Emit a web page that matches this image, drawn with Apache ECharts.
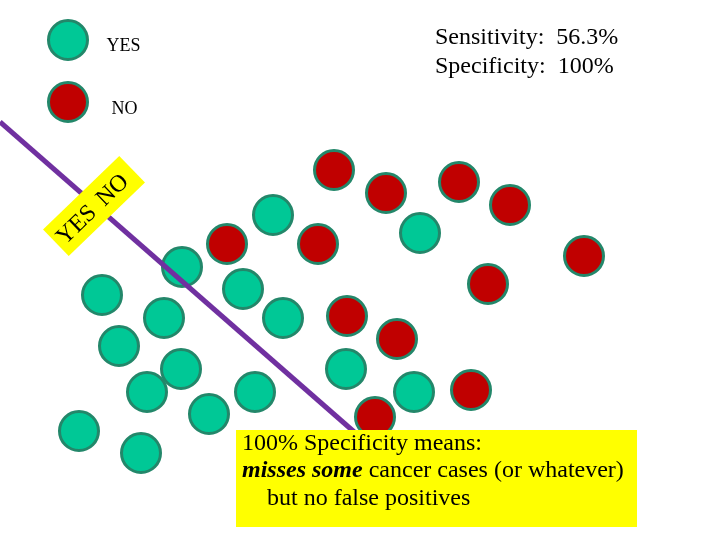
<!DOCTYPE html>
<html>
<head>
<meta charset="utf-8">
<script src="https://cdn.jsdelivr.net/npm/echarts@6/dist/echarts.min.js"></script>
<style>
html,body{margin:0;padding:0;background:#fff;}
#chart{width:720px;height:540px;}
</style>
</head>
<body>
<div id="chart"></div>
<script>
// Data (plot units = picture pixels, y downward)
const yesPoints = [[273,215],[420,233],[182,267],[102,295],[243,289],[164,318],[283,318],[119,346],[181,369],[147,392],[255,392],[346,369],[209,414],[79,431],[141,453],[414,392]];
const noPoints = [[334,170],[386,193],[459,182],[510,205],[318,244],[227,244],[584,256],[488,284],[347,316],[397,339],[471,390],[375,417]];
const boundary = [[0,122],[360,437]];
const classNames = ['YES', 'NO'];
const statLines = ['Sensitivity:  56.3%', 'Specificity:  100%'];
const noteLine1 = '100% Specificity means:';
const noteEmph = 'misses some';
const noteRest = ' cancer cases (or whatever)';
const noteLine3 = 'but no false positives';

const serif = '"Liberation Serif", "DejaVu Serif", serif';
const borderCol = '#23876a';
const tealCol = '#00c896';
const redCol = '#c00000';

const chart = echarts.init(document.getElementById('chart'));
const deg = Math.PI / 180;

chart.setOption({
  animation: false,
  backgroundColor: '#ffffff',
  grid: {left: 0, right: 0, top: 0, bottom: 0},
  xAxis: {type: 'value', min: 0, max: 720, show: false},
  yAxis: {type: 'value', min: 0, max: 540, inverse: true, show: false},
  legend: {
    data: classNames,
    orient: 'vertical',
    left: 47,
    top: 19,
    padding: 0,
    icon: 'circle',
    itemWidth: 39,
    itemHeight: 39,
    itemGap: 20,
    selectedMode: false,
    itemStyle: {borderColor: borderCol, borderWidth: 3},
    formatter: function (name) { return name === classNames[1] ? '{n|' + name + '}' : '{y|' + name + '}'; },
    textStyle: {
      fontFamily: serif, fontSize: 18, color: '#000',
      rich: {
        y: {fontFamily: serif, fontSize: 18, color: '#000', padding: [12, 0, 0, 14]},
        n: {fontFamily: serif, fontSize: 18, color: '#000', padding: [14, 0, 0, 19]}
      }
    }
  },
  series: [
    {
      name: classNames[0], type: 'scatter', data: yesPoints, symbol: 'circle', symbolSize: 39, z: 2,
      itemStyle: {color: tealCol, borderColor: borderCol, borderWidth: 3, opacity: 1}
    },
    {
      name: classNames[1], type: 'scatter', data: noPoints, symbol: 'circle', symbolSize: 39, z: 2,
      itemStyle: {color: redCol, borderColor: borderCol, borderWidth: 3, opacity: 1}
    },
    {
      name: 'boundary', type: 'line', data: boundary, symbol: 'none', z: 3,
      lineStyle: {color: '#7030a0', width: 5}
    }
  ],
  graphic: [
    {
      type: 'text', x: 435, y: 38, z: 20,
      style: {text: statLines[0], font: '24px ' + serif, fill: '#000', verticalAlign: 'middle'}
    },
    {
      type: 'text', x: 435, y: 67, z: 20,
      style: {text: statLines[1], font: '24px ' + serif, fill: '#000', verticalAlign: 'middle'}
    },
    {
      type: 'group', x: 94, y: 206, rotation: 44 * deg, z: 20,
      children: [
        {type: 'rect', shape: {x: -53, y: -18.5, width: 106, height: 37}, style: {fill: '#ffff00'}, z: 20},
        {type: 'text', x: -3, y: 2, z: 21, style: {text: classNames[0], font: '24px ' + serif, fill: '#000', align: 'right', verticalAlign: 'middle'}},
        {type: 'text', x: 7, y: 2, z: 21, style: {text: classNames[1], font: '24px ' + serif, fill: '#000', align: 'left', verticalAlign: 'middle'}}
      ]
    },
    {type: 'rect', shape: {x: 236, y: 430, width: 401, height: 97}, style: {fill: '#ffff00'}, z: 20},
    {type: 'text', x: 242, y: 444, z: 21, style: {text: noteLine1, font: '24px ' + serif, fill: '#000', verticalAlign: 'middle'}},
    {type: 'text', x: 242, y: 471, z: 21, style: {
      text: '{b|' + noteEmph + '}' + noteRest,
      font: '24px ' + serif, fill: '#000', verticalAlign: 'middle',
      rich: {b: {fontFamily: serif, fontSize: 24, fontWeight: 'bold', fontStyle: 'italic', fill: '#000'}}
    }},
    {type: 'text', x: 267, y: 499, z: 21, style: {text: noteLine3, font: '24px ' + serif, fill: '#000', verticalAlign: 'middle'}}
  ]
});
</script>
</body>
</html>
